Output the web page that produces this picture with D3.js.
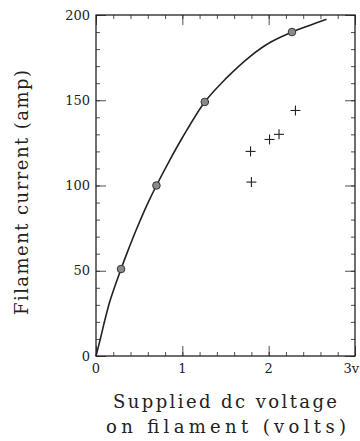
<!DOCTYPE html>
<html>
<head>
<meta charset="utf-8">
<script src="https://cdn.jsdelivr.net/npm/d3@7"></script>
<style>
  html, body { margin: 0; padding: 0; background: #fff; }
  svg text { font-family: "DejaVu Serif", serif; fill: #222; }
</style>
</head>
<body>
<svg id="chart" width="360" height="441"></svg>
<script>
// values
const curveVolts = [0, 0.05, 0.1, 0.16, 0.29, 0.36, 0.47, 0.59, 0.7, 0.85, 1.0, 1.26, 1.5, 1.78, 2.02, 2.27, 2.48, 2.67];
const curveAmps  = [0, 10, 20.5, 32, 51, 60.5, 74.5, 88.5, 100, 114.5, 128, 149, 162.5, 175.5, 184, 190, 194, 197.5];
const circleVolts = [0.29, 0.70, 1.26, 2.27];
const circleAmps  = [51, 100, 149, 190];
const crossVolts = [1.80, 1.79, 2.01, 2.12, 2.31];
const crossAmps  = [102, 120, 127, 130, 144];
const xTickLabels = ["0", "1", "2", "3v"];
const yTickValues = [0, 50, 100, 150, 200];

const svg = d3.select("#chart");
const plotLeft = 96, plotRight = 355, plotTop = 15, plotBottom = 356;

const x = d3.scaleLinear().domain([0, 3]).range([plotLeft, plotRight]);
const y = d3.scaleLinear().domain([0, 200]).range([plotBottom, plotTop]);

const ink = "#222";

// frame
svg.append("rect")
    .attr("x", plotLeft).attr("y", plotTop)
    .attr("width", plotRight - plotLeft).attr("height", plotBottom - plotTop)
    .attr("fill", "none")
    .attr("stroke", ink)
    .attr("stroke-width", 1.3);

// ticks on all four sides, pointing inwards
const xMinor = d3.range(0, 3.001, 0.2);
const yMinor = d3.range(0, 200.1, 10);

function tickAxis(axis, g) {
    g.call(axis);
    g.select(".domain").remove();
    g.selectAll(".tick line").attr("stroke", ink).attr("stroke-width", 0.8);
    g.selectAll(".tick text").remove();
}

[[d3.axisBottom(x), `translate(0,${plotBottom})`, xMinor, [0, 1, 2, 3]],
 [d3.axisTop(x), `translate(0,${plotTop})`, xMinor, [0, 1, 2, 3]],
 [d3.axisLeft(y), `translate(${plotLeft},0)`, yMinor, yTickValues],
 [d3.axisRight(y), `translate(${plotRight},0)`, yMinor, yTickValues]]
.forEach(([axis, tr, minor, major]) => {
    tickAxis(axis.tickValues(minor).tickSize(-4), svg.append("g").attr("transform", tr));
    tickAxis(axis.tickValues(major).tickSize(-10), svg.append("g").attr("transform", tr));
});

// tick labels
svg.append("g").selectAll("text")
    .data(yTickValues)
    .join("text")
    .attr("x", plotLeft - 6)
    .attr("y", d => y(d))
    .attr("dy", "0.35em")
    .attr("text-anchor", "end")
    .style("font-size", "13px")
    .text(d => d);

svg.append("g").selectAll("text")
    .data(xTickLabels)
    .join("text")
    .attr("x", (d, i) => i === 3 ? 359 : x(i))
    .attr("y", plotBottom + 17)
    .attr("text-anchor", (d, i) => i === 3 ? "end" : "middle")
    .style("font-size", "13px")
    .text(d => d);

// axis titles (lengths stretched to the scan's wide letter spacing)
svg.append("text")
    .attr("x", 113).attr("y", 408)
    .attr("textLength", 224)
    .attr("lengthAdjust", "spacing")
    .style("font-size", "18px")
    .text("Supplied dc voltage");

svg.append("text")
    .attr("x", 106).attr("y", 433)
    .attr("textLength", 240)
    .attr("lengthAdjust", "spacing")
    .style("font-size", "18px")
    .text("on filament (volts)");

svg.append("text")
    .attr("transform", "translate(28,315) rotate(-90)")
    .attr("textLength", 245)
    .attr("lengthAdjust", "spacing")
    .style("font-size", "18px")
    .text("Filament current (amp)");

// fitted curve
const line = d3.line()
    .x(d => x(d[0]))
    .y(d => y(d[1]))
    .curve(d3.curveCatmullRom.alpha(0.5));

svg.append("path")
    .datum(d3.zip(curveVolts, curveAmps))
    .attr("d", line)
    .attr("fill", "none")
    .attr("stroke", ink)
    .attr("stroke-width", 1.6);

// measured points
svg.append("g").selectAll("circle")
    .data(d3.zip(circleVolts, circleAmps))
    .join("circle")
    .attr("cx", d => x(d[0]))
    .attr("cy", d => y(d[1]))
    .attr("r", 3.8)
    .attr("fill", "#8a8a8a")
    .attr("stroke", "#333")
    .attr("stroke-width", 1);

const cross = svg.append("g").selectAll("g")
    .data(d3.zip(crossVolts, crossAmps))
    .join("g")
    .attr("transform", d => `translate(${x(d[0])},${y(d[1])})`)
    .attr("stroke", ink)
    .attr("stroke-width", 1.1);
cross.append("line").attr("x1", -5).attr("x2", 5);
cross.append("line").attr("y1", -5).attr("y2", 5);
</script>
</body>
</html>
